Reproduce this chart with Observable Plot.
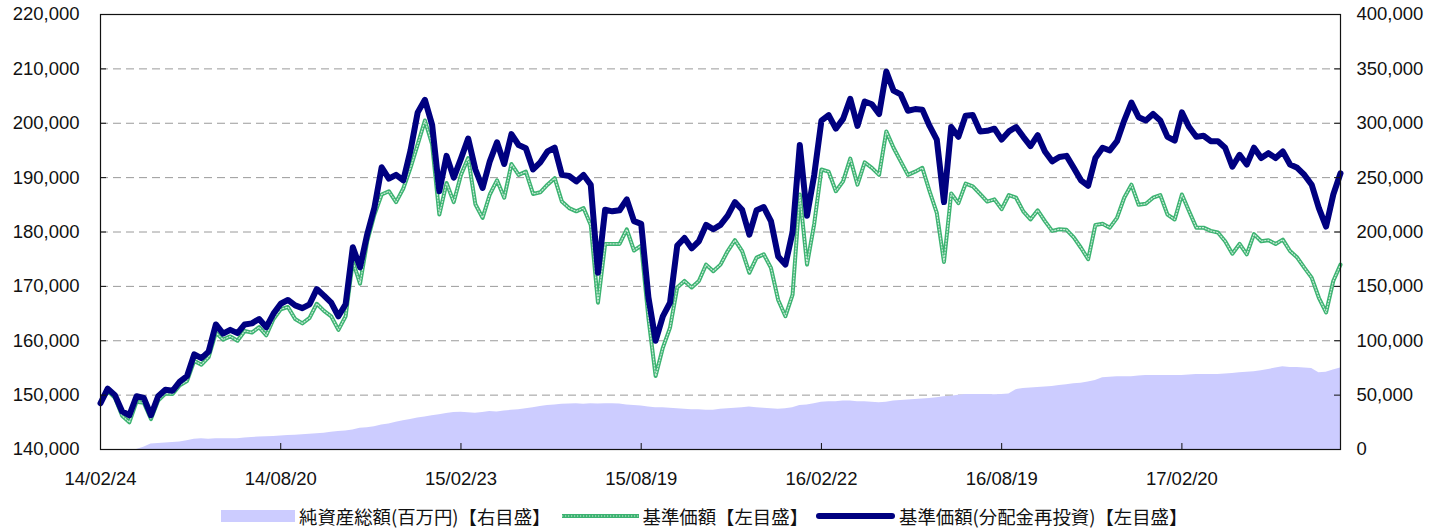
<!DOCTYPE html>
<html>
<head>
<meta charset="utf-8">
<script src="https://cdn.jsdelivr.net/npm/d3@7"></script>
<script src="https://cdn.jsdelivr.net/npm/@observablehq/plot@0.6"></script>
<style>
  body { margin: 0; background: #fff; }
  #chart svg { display: block; }
  #legend { display: flex; align-items: center; height: 26px; margin-top: 3px; padding-left: 221px;
    font-family: "Noto Sans CJK JP", sans-serif; font-size: 18.4px; color: #111; white-space: nowrap; }
  #legend .sw { display: block; flex: none; }
  #legend span { display: block; }
</style>
</head>
<body>
<div id="chart"></div>
<div id="legend"></div>
<script>
// x axis: one value per week, tick labels at these week indices
const tickWeeks = [0, 25, 50, 75, 100, 125, 150];
const tickLabels = ["14/02/24", "14/08/20", "15/02/23", "15/08/19", "16/02/22", "16/08/19", "17/02/20"];

// 基準価額(分配金再投資) [left axis]
const navReinvested = [
  148500,151200,150000,147000,146300,149800,149500,146300,149800,151000,
  150800,152500,153500,157500,156800,158000,163000,161300,162000,161400,
  163000,163200,164000,162500,165000,166800,167500,166500,166000,166700,
  169500,168300,167000,164500,166700,177200,173500,179600,184500,191900,
  189800,190500,189500,195000,202000,204300,199700,187500,194000,190000,
  193500,197200,191500,188100,193000,196500,192500,198000,196000,195400,
  191500,192800,194800,195500,190500,190300,189300,190500,188700,172500,
  184100,183800,184000,186000,182000,181500,168000,160000,164500,167000,
  177500,178900,177000,178300,181300,180500,181300,183000,185500,184100,
  179500,184000,184600,182000,175500,174000,180000,196000,183000,190500,
  200500,201500,199000,200800,204500,199500,204000,203500,201700,209500,
  206000,205300,202300,202600,202500,199500,197000,185500,199300,197500,
  201400,201500,198500,198600,199000,197000,198500,199300,197500,195800,
  197800,194800,193000,193800,194000,191800,189500,188500,193600,195500,
  195000,196700,200500,203800,201100,200500,201700,200500,197500,196800,
  202000,199300,197500,197700,196700,196700,195500,192000,194200,192400,
  195500,193600,194500,193600,194800,192400,191800,190500,188700,184400,
  181000,186900,190800
];

// 基準価額 [left axis]
const nav = [
  148500,150800,149500,146200,145000,148800,148600,145600,149000,150300,
  150200,151800,152600,156300,155600,157000,161500,160200,160800,160000,
  161800,161500,162500,161000,164000,165800,166200,164000,163200,164200,
  166800,165500,164500,162000,164500,174600,170500,178300,183200,186900,
  187500,185500,188000,191800,196100,200500,196100,183200,189000,185500,
  190500,193600,185100,182600,186900,189500,186300,192500,190500,191100,
  187000,187300,188700,189900,185600,184400,183800,184400,181300,167000,
  177800,177800,177800,180500,176600,177500,164200,153500,158700,162400,
  169800,171000,169800,171000,174000,172800,174000,176500,178500,176500,
  172500,175300,175900,173400,167500,164500,168500,186900,174000,181500,
  191500,191100,187500,189300,193500,188700,192800,191800,190500,198500,
  195500,193000,190500,191100,191800,187500,183500,174500,187100,185300,
  188900,188400,187000,185600,186000,184200,186800,186300,183800,182300,
  184000,182000,180200,180500,180400,179000,177100,175000,181300,181500,
  180800,182600,186300,188700,185000,185200,186300,186800,183200,182300,
  186900,183800,180800,180800,180200,179900,178300,176000,177800,175900,
  179600,178300,178500,177800,178600,176500,175300,173400,171600,167900,
  165200,171000,174000
];

// 純資産総額(百万円) [right axis]
const netAssets = [
  0,0,0,0,0,0,2000,5000,5500,6000,
  6500,7000,8000,9500,9800,9500,9800,9800,9800,10000,
  10500,11000,11500,11800,12000,12500,12800,13200,13500,14000,
  14500,15000,15800,16500,17000,18000,19500,20000,21000,22500,
  23500,25000,26500,27500,29000,30000,31000,32000,33000,34000,
  34300,33800,33400,34000,35000,34500,35500,36000,36500,37500,
  38500,39500,40500,41000,41500,41800,42000,41500,42000,41800,
  42000,42000,41800,41000,40500,40000,39000,38500,38500,38000,
  37500,37000,36500,36500,36000,36000,37000,37500,38000,38500,
  39000,38500,38000,37500,37000,37500,38500,40500,41000,42000,
  43500,44000,44000,44500,44500,44000,44000,43500,43000,43500,
  44500,45000,45500,46000,46500,47000,47500,48500,49000,50000,
  50500,50500,50500,50500,50300,50500,51000,55000,56000,56500,
  57000,57500,58000,58800,59500,60500,61000,62000,63500,66000,
  66500,66800,67000,67000,67500,68000,68000,68000,68000,68000,
  68000,68500,69000,69000,69000,69000,69500,70000,70500,71000,
  71500,72500,73500,75000,76000,75500,75500,75000,74500,70500,
  71000,73000,75000
];

const leftDomain = [140000, 220000];
const rightDomain = [0, 400000];
const toLeft = r => leftDomain[0] + (r - rightDomain[0]) * (leftDomain[1] - leftDomain[0]) / (rightDomain[1] - rightDomain[0]);
const toRight = v => Math.round(rightDomain[0] + (v - leftDomain[0]) * (rightDomain[1] - rightDomain[0]) / (leftDomain[1] - leftDomain[0]));

const data = nav.map((v, i) => ({week: i, nav: v, re: navReinvested[i], assets: netAssets[i]}));
const yTicks = d3.range(leftDomain[0], leftDomain[1] + 1, 10000);
const gridTicks = yTicks.slice(1, -1);
const fmt = d3.format(",");

const GREEN = "#3cb371", NAVY = "#000080", LAVENDER = "#ccccff";

const chart = Plot.plot({
  width: 1437,
  height: 500,
  marginLeft: 100,
  marginRight: 97,
  marginTop: 14,
  marginBottom: 51,
  x: {domain: [0, 172], label: null},
  y: {domain: leftDomain, label: null},
  style: {fontFamily: "'Liberation Sans', Arial, sans-serif", fontSize: "18.5px", color: "#111", background: "white"},
  marks: [
    Plot.ruleY(gridTicks, {y: d => d, stroke: "#9a9a9a", strokeWidth: 1, strokeDasharray: "8,5"}),
    Plot.areaY(data, {x: "week", y1: leftDomain[0], y2: d => toLeft(d.assets), fill: LAVENDER}),
    Plot.line(data, {x: "week", y: "nav", stroke: GREEN, strokeWidth: 4, strokeLinejoin: "round"}),
    Plot.line(data, {x: "week", y: "nav", stroke: "white", strokeWidth: 1.2, strokeDasharray: "1.2,1.8", strokeOpacity: 0.75}),
    Plot.line(data, {x: "week", y: "re", stroke: NAVY, strokeWidth: 6, strokeLinejoin: "round", strokeLinecap: "round"}),
    Plot.frame({stroke: "#111", strokeWidth: 1.2}),
    Plot.ruleX(tickWeeks, {x: d => d, insetTop: 429, stroke: "#111"}),
    Plot.ruleY(yTicks, {y: d => d, insetRight: 1234, stroke: "#111"}),
    Plot.ruleY(yTicks, {y: d => d, insetLeft: 1234, stroke: "#111"}),
    Plot.axisX({ticks: tickWeeks, tickSize: 0, tickPadding: 22, label: null, tickFormat: d => tickLabels[tickWeeks.indexOf(d)]}),
    Plot.axisY({anchor: "left", ticks: yTicks, tickSize: 0, tickPadding: 21, label: null, tickFormat: d => fmt(d)}),
    Plot.axisY({anchor: "right", ticks: yTicks, tickSize: 0, tickPadding: 16, label: null, tickFormat: d => fmt(toRight(d))})
  ]
});
document.getElementById("chart").appendChild(chart);

// legend
const legendItems = [
  {label: "純資産総額(百万円)【右目盛】", kind: "area", w: 74, gapBefore: 0},
  {label: "基準価額【左目盛】", kind: "nav", w: 77, gapBefore: 11},
  {label: "基準価額(分配金再投資)【左目盛】", kind: "re", w: 79, gapBefore: 8}
];
const legend = document.getElementById("legend");
for (const it of legendItems) {
  const ns = "http://www.w3.org/2000/svg";
  const svg = document.createElementNS(ns, "svg");
  svg.setAttribute("class", "sw");
  svg.setAttribute("width", it.w);
  svg.setAttribute("height", 14);
  svg.style.marginLeft = it.gapBefore + "px";
  svg.style.marginRight = "4px";
  if (it.kind === "area") {
    const r = document.createElementNS(ns, "rect");
    r.setAttribute("x", 0); r.setAttribute("y", 1); r.setAttribute("width", it.w); r.setAttribute("height", 12);
    r.setAttribute("fill", LAVENDER);
    svg.appendChild(r);
  } else if (it.kind === "nav") {
    const l = document.createElementNS(ns, "line");
    l.setAttribute("x1", 0); l.setAttribute("x2", it.w); l.setAttribute("y1", 7); l.setAttribute("y2", 7);
    l.setAttribute("stroke", GREEN); l.setAttribute("stroke-width", 4);
    svg.appendChild(l);
    const l2 = l.cloneNode();
    l2.setAttribute("stroke", "white"); l2.setAttribute("stroke-width", 1.2);
    l2.setAttribute("stroke-dasharray", "1.2,1.8"); l2.setAttribute("stroke-opacity", 0.75);
    svg.appendChild(l2);
  } else {
    const l = document.createElementNS(ns, "line");
    l.setAttribute("x1", 3); l.setAttribute("x2", it.w - 3); l.setAttribute("y1", 7); l.setAttribute("y2", 7);
    l.setAttribute("stroke", NAVY); l.setAttribute("stroke-width", 6); l.setAttribute("stroke-linecap", "round");
    svg.appendChild(l);
  }
  legend.appendChild(svg);
  const s = document.createElement("span");
  s.textContent = it.label;
  legend.appendChild(s);
}
</script>
</body>
</html>
